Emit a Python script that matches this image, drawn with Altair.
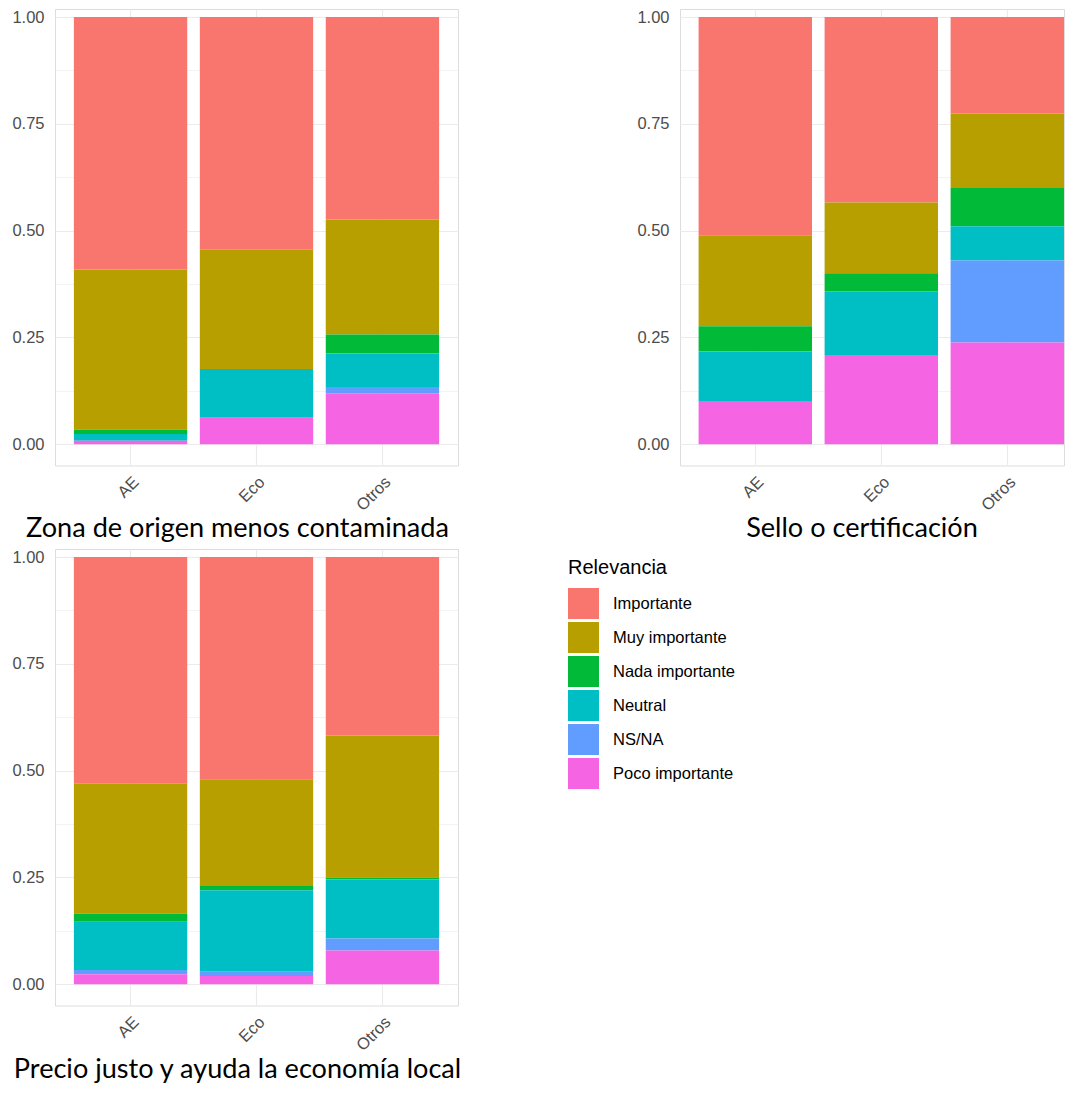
import altair as alt
import pandas as pd

groups = ["AE", "Eco", "Otros"]
levels = ["Importante", "Muy importante", "Nada importante", "Neutral", "NS/NA", "Poco importante"]
colors = ["#F8766D", "#B79F00", "#00BA38", "#00BFC4", "#619CFF", "#F564E3"]
stack_rank = [5, 4, 3, 2, 1, 0]  # Importante on top, Poco importante at the bottom

titles = [
    "Zona de origen menos contaminada",
    "Sello o certificación",
    "Precio justo y ayuda la economía local",
]

# proportions per group (AE, Eco, Otros) for each level
zona_importante = [0.591, 0.545, 0.474]
zona_muy = [0.375, 0.279, 0.269]
zona_nada = [0.010, 0.000, 0.045]
zona_neutral = [0.016, 0.114, 0.078]
zona_nsna = [0.000, 0.000, 0.015]
zona_poco = [0.008, 0.062, 0.119]

sello_importante = [0.511, 0.434, 0.226]
sello_muy = [0.213, 0.166, 0.174]
sello_nada = [0.059, 0.042, 0.090]
sello_neutral = [0.116, 0.149, 0.080]
sello_nsna = [0.000, 0.000, 0.192]
sello_poco = [0.101, 0.209, 0.238]

precio_importante = [0.531, 0.520, 0.418]
precio_muy = [0.304, 0.250, 0.333]
precio_nada = [0.019, 0.010, 0.004]
precio_neutral = [0.113, 0.191, 0.138]
precio_nsna = [0.010, 0.010, 0.028]
precio_poco = [0.023, 0.019, 0.079]

panels = {
    titles[0]: [zona_importante, zona_muy, zona_nada, zona_neutral, zona_nsna, zona_poco],
    titles[1]: [sello_importante, sello_muy, sello_nada, sello_neutral, sello_nsna, sello_poco],
    titles[2]: [precio_importante, precio_muy, precio_nada, precio_neutral, precio_nsna, precio_poco],
}

rows = []
for ptitle, series in panels.items():
    for li, (lev, vals) in enumerate(zip(levels, series)):
        for g, v in zip(groups, vals):
            rows.append({"panel": ptitle, "grupo": g, "relevancia": lev, "prop": v, "ord": stack_rank[li]})
df = pd.DataFrame(rows)

FONT = "Liberation Sans"
GRID = "#EBEBEB"
yvals = [i * 0.125 for i in range(9)]
YTOP = 1.019
PLOT_H = 456.5


def panel(ptitle, legend, width, xscale, title_dx, title_offset):
    return (
        alt.Chart(df[df["panel"] == ptitle])
        .mark_bar()
        .encode(
            x=alt.X(
                "grupo:N",
                sort=groups,
                scale=xscale,
                axis=alt.Axis(
                    title=None, labelAngle=-45, labelAlign="right", labelBaseline="top",
                    labelPadding=8, labelFontSize=16.5, labelColor="#4D4D4D", labelFont=FONT,
                    grid=True, gridColor=GRID, gridWidth=1.1, bandPosition=0.5,
                    ticks=False, domain=False,
                ),
            ),
            y=alt.Y(
                "prop:Q",
                stack="zero",
                scale=alt.Scale(domain=[-0.05, YTOP], nice=False, zero=False),
                axis=alt.Axis(
                    title=None, values=yvals,
                    labelExpr="datum.value % 0.25 == 0 ? format(datum.value, '.2f') : ''",
                    grid=True, gridColor=GRID,
                    gridWidth={"condition": {"test": "datum.value % 0.25 == 0", "value": 1.1}, "value": 0.6},
                    ticks=False, domain=False, labelPadding=11, labelFontSize=16.5,
                    labelColor="#4D4D4D", labelFont=FONT,
                ),
            ),
            color=alt.Color("relevancia:N", scale=alt.Scale(domain=levels, range=colors), legend=legend),
            order=alt.Order("ord:Q", sort="ascending"),
        )
        .properties(
            width=width,
            height=PLOT_H,
            title=alt.TitleParams(
                ptitle, orient="bottom", anchor="middle", frame="group", font="Lato",
                fontSize=27.1, fontWeight="normal", color="black", offset=title_offset, dx=title_dx,
            ),
        )
    )


leg = alt.Legend(
    orient="none", legendX=513, legendY=9, title="Relevancia", titleFontSize=20,
    titleFont=FONT, titleFontWeight="normal", titleColor="black", labelFontSize=16.5,
    labelFont=FONT, labelColor="black", symbolType="square", symbolSize=961,
    symbolStrokeWidth=0, symbolOpacity=1, rowPadding=3, labelOffset=14,
    titlePadding=10, padding=0,
)

full_scale = alt.Scale(paddingInner=0.1, paddingOuter=0.15)
cut_scale = alt.Scale(paddingInner=0.1, paddingOuter=0.0738, align=1)

p1 = panel(titles[0], None, 403, full_scale, -19, 2)
p2 = panel(titles[1], None, 384, cut_scale, -10, 2)
p3 = panel(titles[2], leg, 403, full_scale, -19, 3)

row1 = alt.hconcat(p1, p2, spacing=177).resolve_legend(color="independent")
chart = (
    alt.vconcat(row1, p3, spacing=5)
    .resolve_legend(color="independent")
    .properties(padding={"left": 3, "top": 0, "right": 0, "bottom": 0}, background="white")
    .configure_view(stroke=None)
    .configure(font=FONT)
)

chart.save("out.html", embed_options={"renderer": "svg", "actions": False})
